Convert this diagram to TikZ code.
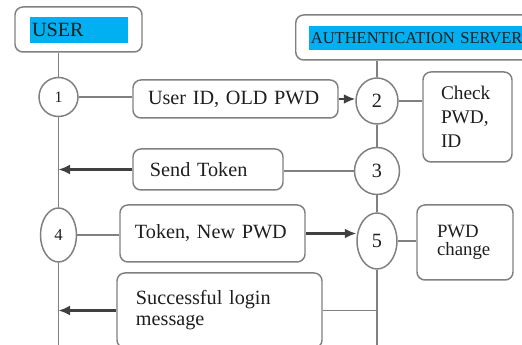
\documentclass[tikz,border=0pt]{standalone}
\usepackage{fontspec}
\setmainfont{Liberation Serif}
\usetikzlibrary{shapes.geometric,arrows.meta}
\definecolor{hilite}{RGB}{0,176,240}
\definecolor{edgegray}{RGB}{128,128,128}
\definecolor{ink}{RGB}{30,30,30}

\begin{document}
\begin{tikzpicture}[
    font=\fontsize{11.5}{12}\selectfont, text=ink,
    box/.style={draw=edgegray, line width=0.85pt, rounded corners=4.5pt, align=left, inner ysep=2pt},
    stepnode/.style={ellipse, draw=edgegray, line width=0.85pt, inner sep=0pt},
    wire/.style={draw=edgegray, line width=1.1pt},
    msgarrow/.style={-{Latex[length=2.3mm,width=2mm]}, draw=ink!85, line width=1.2pt}
]
    \useasboundingbox (0,0) rectangle (10.44,6.9);
    \clip (0,0) rectangle (10.44,6.9);

    \node[box, minimum width=2.54cm, minimum height=0.9cm] (usr) at (1.57,6.31) {};
    \node[fill=hilite, text width=1.88cm, inner xsep=0.04cm, minimum height=0.48cm, align=left] (usrtag) at (1.58,6.3) {USER};
    \node[box, anchor=west, minimum width=6cm, minimum height=0.9cm] (srv) at (5.9,6.15) {};
    \node[fill=hilite, anchor=west, text width=6cm, inner xsep=0.03cm, minimum height=0.48cm, align=left, font=\fontsize{9.4}{11}\selectfont] (srvtag) at (6.18,6.14) {AUTHENTICATION SERVER};

    \node[stepnode, minimum width=0.78cm, minimum height=0.78cm, font=\fontsize{9}{10}\selectfont] (s1) at (1.17,4.96) {1};
    \node[stepnode, minimum width=0.84cm, minimum height=0.92cm] (s2) at (7.54,4.88) {2};
    \node[stepnode, minimum width=0.9cm, minimum height=0.94cm] (s3) at (7.54,3.48) {3};
    \node[stepnode, minimum width=0.72cm, minimum height=1.08cm, font=\fontsize{9.5}{10}\selectfont] (s4) at (1.17,2.2) {4};
    \node[stepnode, minimum width=0.8cm, minimum height=1.12cm] (s5) at (7.54,2.08) {5};

    \node[box, text width=3.5cm, inner xsep=0.3cm, minimum height=0.76cm] (m1) at (4.71,4.92) {User ID, OLD PWD};
    \node[box, text width=2.32cm, inner xsep=0.34cm, minimum height=0.82cm] (m2) at (4.16,3.51) {Send Token};
    \node[box, text width=3.1cm, inner xsep=0.3cm, minimum height=1.14cm] (m3) at (4.25,2.23) {Token, New PWD};
    \node[box, text width=3.34cm, inner xsep=0.38cm, minimum height=1.5cm] (m4) at (4.39,0.69) {Successful login\\message};
    \node[box, text width=1.06cm, inner xsep=0.36cm, minimum height=1.8cm, font=\fontsize{11}{13.7}\selectfont] (chk) at (9.35,4.56) {Check\\PWD,\\ID};
    \node[box, text width=1.12cm, inner xsep=0.4cm, minimum height=1.5cm, font=\fontsize{10.7}{10.5}\selectfont] (chg) at (9.3,2.05) {PWD\\change};

    \coordinate (ubot) at (1.17,-0.1);
    \coordinate (sbot) at (7.54,-0.1);
    \draw[wire] (s1 |- usr.south) -- (s1) (s1) -- (s4) (s4) -- (ubot);
    \draw[wire] (s2 |- srv.south) -- (s2) (s2) -- (s3) (s3) -- (s5) (s5) -- (sbot);

    \draw[wire] (s1.east) -- (s1.east -| m1.west);
    \draw[msgarrow] (m1.east) -- (m1.east -| s2.west);
    \draw[wire] (s2.east) -- (s2.east -| chk.west);
    \draw[wire] (s3.west) -- (s3.west -| m2.east);
    \draw[msgarrow] (m2.west) -- (m2.west -| s1);
    \draw[wire] (s4.east) -- (s4.east -| m3.west);
    \draw[msgarrow] (m3.east) -- (m3.east -| s5.west);
    \draw[wire] (s5.east) -- (s5.east -| chg.west);
    \draw[wire] (m4.east) -- (m4.east -| s5);
    \draw[msgarrow] (m4.west) -- (m4.west -| s4);
\end{tikzpicture}
\end{document}
